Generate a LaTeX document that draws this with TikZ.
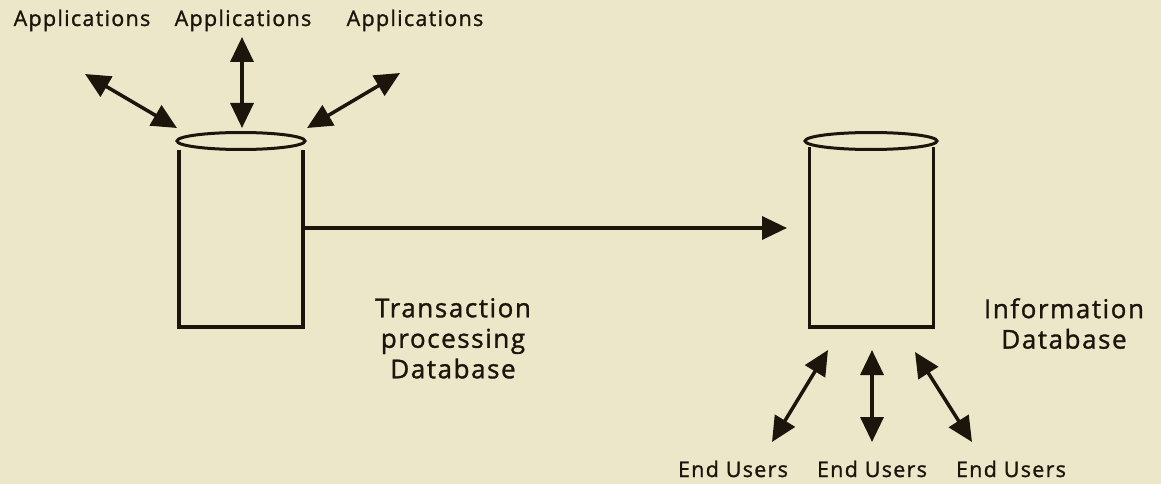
\documentclass[tikz,border=0pt]{standalone}
\usepackage{fontspec}
\setmainfont{Open Sans}[LetterSpace=6,FakeBold=1.3]
\usetikzlibrary{arrows.meta,shapes.geometric}
\definecolor{paper}{HTML}{EDE7CA}
\definecolor{ink}{HTML}{1C150C}

\begin{document}
\begin{tikzpicture}[x=1pt,y=-1pt,
    dbline/.style={ink,line width=3.5pt},
    dbtop/.style={ellipse,draw=ink,line width=3pt,inner sep=0pt,minimum width=128pt,minimum height=17pt},
    dbbody/.style={inner sep=0pt,minimum width=124pt},
    twoway/.style={ink,line width=3.5pt,{Triangle[length=25pt,width=23pt]}-{Triangle[length=25pt,width=23pt]}},
    oneway/.style={ink,line width=3.5pt,-{Triangle[length=25pt,width=23pt]}},
    smalllbl/.style={font=\fontsize{21.5}{25}\selectfont,text=ink,inner sep=0pt,anchor=base},
    biglbl/.style={font=\fontsize{26}{30.5}\selectfont,text=ink,inner sep=0pt,align=center,anchor=north}]
    \fill[paper] (0,0) rectangle (1161,484);
    \useasboundingbox (0,0) rectangle (1161,484);

    % transaction processing database
    \node[dbbody,minimum height=177pt] (tpbody) at (241,238.5) {};
    \node[dbtop] (tptop) at (241,141) {};
    \draw[dbline] (tpbody.north west) -- (tpbody.south west) -- (tpbody.south east) -- (tpbody.north east);
    \node[biglbl] (tplbl) at (453,298) {Transaction\\processing\\Database};

    % information database
    \node[dbbody,minimum height=180pt] (infobody) at (871.5,237) {};
    \node[dbtop,minimum width=132pt] (infotop) at (871,141) {};
    \draw[dbline] (infobody.north west) -- (infobody.south west) -- (infobody.south east) -- (infobody.north east);
    \node[biglbl] (infolbl) at (1064,298) {Information\\Database};

    % feed between the two
    \coordinate (feed) at (787,228);
    \draw[oneway] (tpbody.east |- feed) -- (feed);

    % applications
    \node[smalllbl] (app1) at (82,26) {Applications};
    \node[smalllbl] (app2) at (243,26) {Applications};
    \node[smalllbl] (app3) at (415,26) {Applications};
    \coordinate (a1) at (85,74);   \coordinate (a1db) at (177,128);
    \coordinate (a2) at (242,37);  \coordinate (a2db) at (242,128);
    \coordinate (a3) at (400,73);  \coordinate (a3db) at (307,128);
    \draw[twoway] (a1) -- (a1db);
    \draw[twoway] (a2) -- (a2db);
    \draw[twoway] (a3) -- (a3db);

    % end users
    \node[smalllbl] (user1) at (733,477) {End Users};
    \node[smalllbl] (user2) at (872,477) {End Users};
    \node[smalllbl] (user3) at (1011,477) {End Users};
    \coordinate (u1) at (772,442);  \coordinate (u1db) at (828,350);
    \coordinate (u2) at (872,442);  \coordinate (u2db) at (872,350);
    \coordinate (u3) at (972,442);  \coordinate (u3db) at (915,352);
    \draw[twoway] (u1) -- (u1db);
    \draw[twoway] (u2) -- (u2db);
    \draw[twoway] (u3) -- (u3db);
\end{tikzpicture}
\end{document}
